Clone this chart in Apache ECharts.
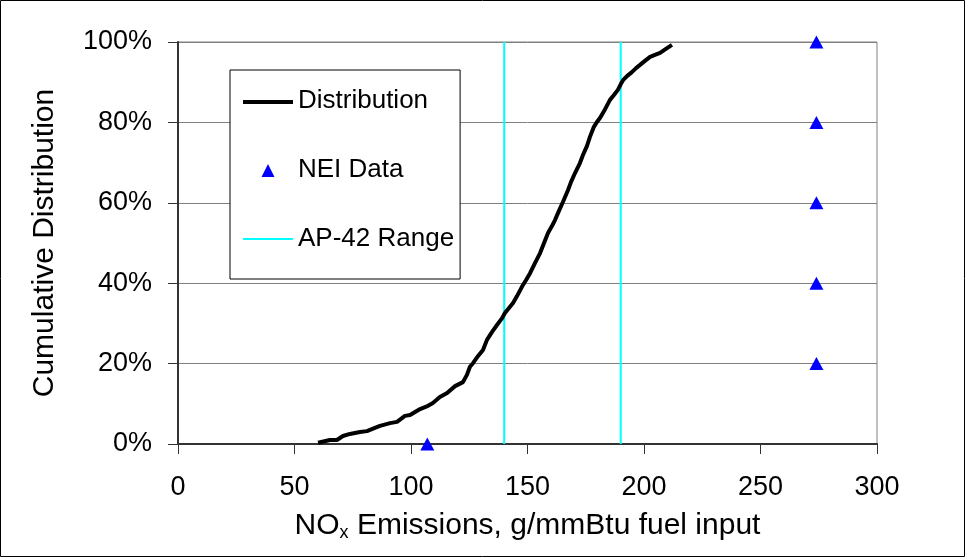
<!DOCTYPE html>
<html>
<head>
<meta charset="utf-8">
<script src="https://cdn.jsdelivr.net/npm/echarts@6/dist/echarts.min.js"></script>
<style>
html,body{margin:0;padding:0;background:#fff;}
#c{width:966px;height:558px;}
</style>
</head>
<body>
<div id="c"></div>
<script>
// Cumulative distribution curve (x = NOx g/mmBtu, y = cumulative fraction)
const distX = [60.1,65.2,68.2,70.8,73.8,78.1,81.1,84.5,86.7,91.0,94.0,97.4,99.6,103.9,107.3,109.4,112.4,115.5,118.9,122.3,124.0,125.3,126.6,128.8,130.9,132.6,134.8,136.9,139.1,140.3,143.8,145.5,147.6,149.4,151.1,153.2,155.4,157.1,158.8,160.5,161.8,163.5,165.2,167.4,168.7,170.4,172.5,173.8,175.5,176.8,178.5,179.8,181.1,183.3,185.4,187.1,188.8,190.1,191.0,192.7,194.8,196.6,198.3,200.4,202.6,204.7,206.9,209.4,212.0];
const distY = [0.003,0.010,0.010,0.020,0.025,0.030,0.032,0.040,0.045,0.052,0.055,0.070,0.072,0.087,0.095,0.102,0.117,0.127,0.144,0.154,0.172,0.192,0.201,0.219,0.234,0.259,0.279,0.296,0.313,0.326,0.351,0.368,0.391,0.408,0.425,0.450,0.475,0.500,0.525,0.542,0.557,0.580,0.602,0.632,0.652,0.674,0.699,0.719,0.741,0.764,0.789,0.801,0.811,0.833,0.856,0.868,0.881,0.896,0.905,0.915,0.925,0.935,0.943,0.953,0.963,0.968,0.973,0.983,0.993];
// NEI data points
const neiX = [107, 274, 274, 274, 274, 274];
const neiY = [0, 0.2, 0.4, 0.6, 0.8, 1.0];
// AP-42 range bounds
const ap42Range = [140, 190];
// Axis ticks
const xTicks = [0, 50, 100, 150, 200, 250, 300];
const yTicks = [0, 0.2, 0.4, 0.6, 0.8, 1.0];

const FONT = '"Liberation Sans", Arial, sans-serif';
const chart = echarts.init(document.getElementById('c'), null, {renderer: 'canvas'});

const distData = distX.map((x, i) => [x, distY[i]]);
const neiData = neiX.map((x, i) => [x, neiY[i]]);
const apSeries = ap42Range.map(v => ({
  name: 'AP-42 Range', type: 'line', symbol: 'none', silent: true,
  data: [[v, 0], [v, 1]],
  lineStyle: {color: '#00FFFF', width: 2},
  itemStyle: {color: '#00FFFF'},
  z: 2
}));

const triPath = 'path://M0,14L0,14M18.5,14L25,1L31.5,14ZM50,14L50,0';
const thickLine = 'path://M0,0L0,0M0,6L50,6L50,10L0,10ZM50,14L50,14';
const thinLine = 'path://M0,0L0,0M0,6L50,6L50,8L0,8ZM50,14L50,14';

chart.setOption({
  animation: false,
  backgroundColor: '#fff',
  graphic: [{
    type: 'rect', shape: {x: 0.5, y: 0.5, width: 964, height: 556},
    style: {fill: 'none', stroke: '#000', lineWidth: 1}, z: 100, silent: true
  }],
  grid: {left: 178, right: 89, top: 42, bottom: 114, show: true, borderColor: '#808080', borderWidth: 1},
  legend: {
    left: 230, top: 70, orient: 'vertical',
    backgroundColor: '#fff', borderColor: '#000', borderWidth: 1,
    padding: [18, 6, 27, 13],
    itemWidth: 50, itemHeight: 14, itemGap: 43,
    textStyle: {fontFamily: FONT, fontSize: 26, color: '#000'},
    data: [
      {name: 'Distribution', icon: thickLine, itemStyle: {color: '#000'}},
      {name: 'NEI Data', icon: triPath, itemStyle: {color: '#0000FF'}},
      {name: 'AP-42 Range', icon: thinLine, itemStyle: {color: '#00FFFF'}}
    ]
  },
  xAxis: {
    type: 'value', min: 0, max: 300, interval: 50,
    name: 'NO{sub|x} Emissions, g/mmBtu fuel input',
    nameLocation: 'middle', nameGap: 66,
    nameTextStyle: {
      fontFamily: FONT, fontSize: 30, color: '#000',
      rich: {sub: {fontFamily: FONT, fontSize: 18, color: '#000', verticalAlign: 'bottom', padding: [14, 0, 0, 0]}}
    },
    axisLine: {show: true, lineStyle: {color: '#333', width: 2}},
    axisTick: {show: true, length: 10, lineStyle: {color: '#333'}},
    axisLabel: {fontFamily: FONT, fontSize: 27, color: '#000', margin: 30,
      customValues: xTicks},
    splitLine: {show: false}
  },
  yAxis: {
    type: 'value', min: 0, max: 1, interval: 0.2,
    name: 'Cumulative Distribution',
    nameLocation: 'middle', nameGap: 118,
    nameTextStyle: {fontFamily: FONT, fontSize: 30, color: '#000'},
    axisLine: {show: true, lineStyle: {color: '#333', width: 2}},
    axisTick: {show: true, length: 10, lineStyle: {color: '#333'}},
    axisLabel: {fontFamily: FONT, fontSize: 27, color: '#000', margin: 26,
      formatter: v => Math.round(v * 100) + '%'},
    splitLine: {show: true, lineStyle: {color: '#808080', width: 1}}
  },
  series: [
    {
      name: 'Distribution', type: 'line', symbol: 'none', data: distData,
      lineStyle: {color: '#000', width: 4}, itemStyle: {color: '#000'}, z: 3
    },
    {
      name: 'NEI Data', type: 'scatter', data: neiData,
      symbol: 'triangle', symbolSize: [14, 13],
      itemStyle: {color: '#0000FF', opacity: 1}, z: 4
    },
    ...apSeries
  ]
});
</script>
</body>
</html>
